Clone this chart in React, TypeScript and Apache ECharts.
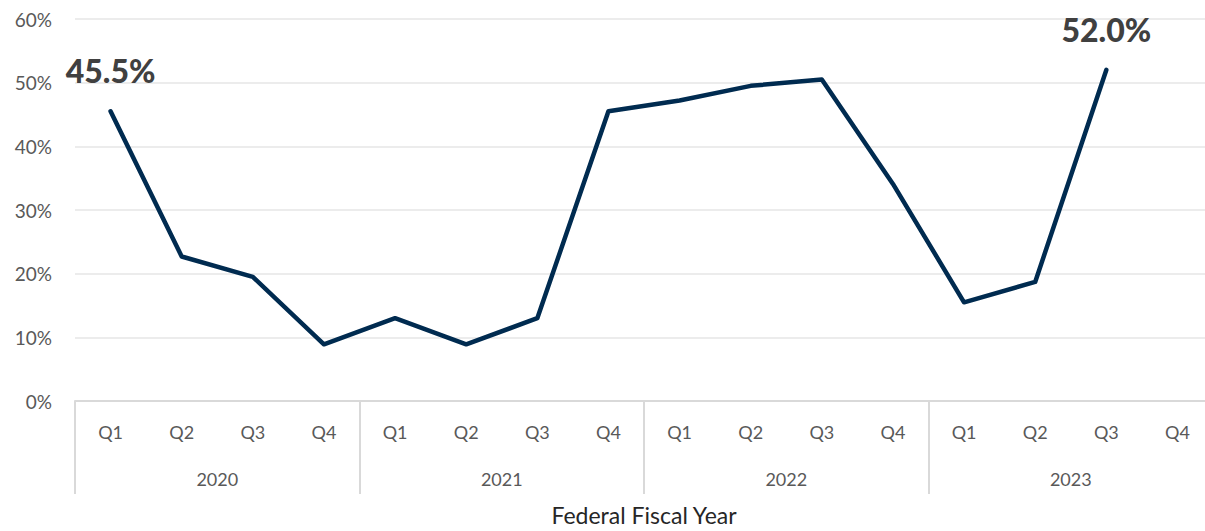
import React, { useEffect, useRef } from "react";
import * as echarts from "echarts";

const years = ["2020", "2021", "2022", "2023"];
const quarters = ["Q1", "Q2", "Q3", "Q4"];
const rateValues: (number | null)[] = [
  45.5, 22.7, 19.5, 8.9,
  13.0, 8.9, 13.0, 45.5,
  47.2, 49.5, 50.5, 34.1,
  15.5, 18.7, 52.0, null,
];
const labeledIndexes = [0, 14];
const yTicks = { min: 0, max: 60, interval: 10 };

const FONT = "Lato, 'Open Sans', sans-serif";

export default function App() {
  const ref = useRef<HTMLDivElement>(null);
  useEffect(() => {
    if (!ref.current) return;
    const chart = echarts.init(ref.current, undefined, { renderer: "svg" });
    const quarterCats: string[] = [];
    years.forEach((y) => quarters.forEach((q) => quarterCats.push(q)));
    const data = rateValues.map((v, i) =>
      labeledIndexes.includes(i)
        ? {
            value: v,
            label: {
              show: true,
              position: "top",
              distance: 24,
              formatter: (p: any) => Number(p.value).toFixed(1) + "%",
              fontSize: 32,
              fontWeight: 900,
              color: "#404040",
              fontFamily: FONT,
            },
          }
        : v
    );
    chart.setOption({
      animation: false,
      grid: { left: 75, right: 0, top: 19, bottom: 128, containLabel: false },
      xAxis: [
        {
          type: "category",
          data: quarterCats,
          position: "bottom",
          boundaryGap: true,
          axisLine: { show: true, lineStyle: { color: "#d9d9d9", width: 2 } },
          axisTick: { show: false },
          axisLabel: {
            interval: 0,
            margin: 22,
            fontSize: 18,
            color: "#595959",
            fontFamily: FONT,
          },
          splitLine: { show: false },
        },
        {
          type: "category",
          data: years,
          position: "bottom",
          boundaryGap: true,
          axisLine: { show: false },
          axisTick: {
            show: true,
            alignWithLabel: false,
            length: 93,
            lineStyle: { color: "#d9d9d9", width: 2 },
          },
          axisLabel: {
            interval: 0,
            margin: 69,
            fontSize: 18,
            color: "#595959",
            fontFamily: FONT,
          },
          name: "Federal Fiscal Year",
          nameLocation: "middle",
          nameGap: 102,
          nameTextStyle: { fontSize: 23, color: "#262626", fontFamily: FONT },
          splitLine: { show: false },
        },
      ],
      yAxis: {
        type: "value",
        min: yTicks.min,
        max: yTicks.max,
        interval: yTicks.interval,
        axisLine: { show: false },
        axisTick: { show: false },
        axisLabel: {
          formatter: "{value}%",
          margin: 23,
          fontSize: 19,
          color: "#595959",
          fontFamily: FONT,
        },
        splitLine: { lineStyle: { color: "#ececec", width: 2 } },
      },
      series: [
        {
          type: "line",
          xAxisIndex: 0,
          data,
          symbol: "circle",
          symbolSize: 1,
          showSymbol: true,
          itemStyle: { color: "#002B50" },
          lineStyle: { color: "#002B50", width: 4.5, join: "round", cap: "round" },
          connectNulls: false,
        },
      ],
    });
    return () => chart.dispose();
  }, []);
  return (
    <div style={{ position: "absolute", left: 0, top: 0, width: 1205, height: 531, overflow: "hidden", background: "#fff" }}>
      <div ref={ref} style={{ position: "absolute", left: 0, top: 0, width: 1213, height: 531 }} />
    </div>
  );
}
